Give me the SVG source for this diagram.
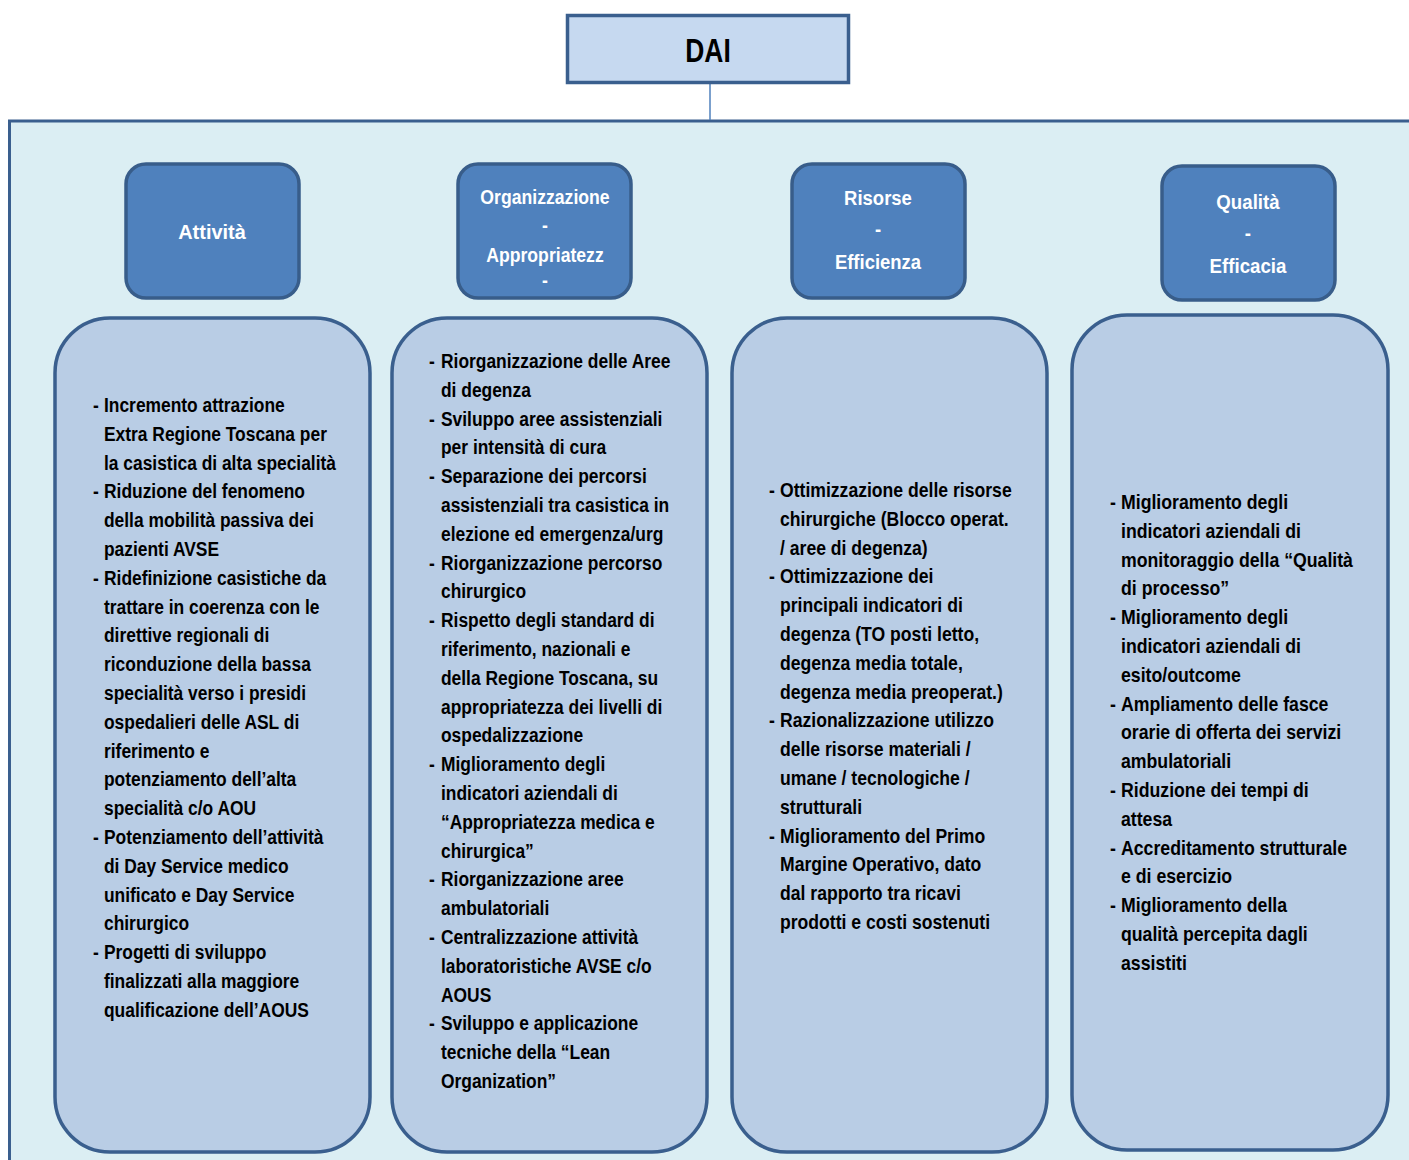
<svg xmlns="http://www.w3.org/2000/svg" width="1409" height="1160" viewBox="0 0 1409 1160">
<style>
.hdr{fill:#4F81BD;stroke:#385D8A;stroke-width:3.5}
.box{fill:#B9CDE5;stroke:#3A5F8E;stroke-width:3.5}
.ht{font-family:"Liberation Sans",Arial,sans-serif;font-weight:bold;font-size:21px;fill:#FFFFFF;text-anchor:middle}
.bt{font-family:"Liberation Sans",Arial,sans-serif;font-weight:bold;font-size:20px;fill:#000000}
</style>
<rect x="0" y="0" width="1409" height="1160" fill="#FFFFFF"/>
<g id="container">
<rect x="9.5" y="121" width="1420" height="1060" fill="#DBEEF3" stroke="#3A5F8E" stroke-width="3"/>
</g>
<g id="connectors">
<line x1="710" y1="82" x2="710" y2="120" stroke="#4F81BD" stroke-width="1.5"/>
</g>
<g id="dai">
<rect x="567.5" y="15.5" width="281" height="67" fill="#C6D9F0" stroke="#3A5F8E" stroke-width="3.5"/>
<text x="708" y="62" transform="translate(708 0) scale(0.8 1) translate(-708 0)" font-family="Liberation Sans, Arial, sans-serif" font-weight="bold" font-size="33" text-anchor="middle" fill="#000">DAI</text>
</g>
<g id="h-attivita">
<rect class="hdr" x="126" y="164" width="173" height="134" rx="20"/>
<g transform="translate(212 0) scale(0.95 1) translate(-212 0)">
<text class="ht" x="212" y="239">Attività</text>
</g>
</g>
<g id="h-organizzazione">
<rect class="hdr" x="458" y="164" width="173" height="134" rx="20"/>
<g transform="translate(545 0) scale(0.84 1) translate(-545 0)">
<text class="ht" x="545" y="204">Organizzazione</text>
<text class="ht" x="545" y="232">-</text>
<text class="ht" x="545" y="262">Appropriatezz</text>
<text class="ht" x="545" y="287">-</text>
</g>
</g>
<g id="h-risorse">
<rect class="hdr" x="792" y="164" width="173" height="134" rx="20"/>
<g transform="translate(878 0) scale(0.88 1) translate(-878 0)">
<text class="ht" x="878" y="205">Risorse</text>
<text class="ht" x="878" y="236">-</text>
<text class="ht" x="878" y="269">Efficienza</text>
</g>
</g>
<g id="h-qualita">
<rect class="hdr" x="1162" y="166" width="173" height="134" rx="20"/>
<g transform="translate(1248 0) scale(0.89 1) translate(-1248 0)">
<text class="ht" x="1248" y="209">Qualità</text>
<text class="ht" x="1248" y="240">-</text>
<text class="ht" x="1248" y="273">Efficacia</text>
</g>
</g>
<g id="b-attivita">
<rect class="box" x="55" y="318" width="315" height="834" rx="55"/>
<text class="bt" transform="translate(104 0) scale(0.87 1) translate(-104 0)">
<tspan x="91.4" y="412">-</tspan><tspan x="104">Incremento attrazione</tspan>
<tspan x="104" dy="28.8">Extra Regione Toscana per</tspan>
<tspan x="104" dy="28.8">la casistica di alta specialità</tspan>
<tspan x="91.4" dy="28.8">-</tspan><tspan x="104">Riduzione del fenomeno</tspan>
<tspan x="104" dy="28.8">della mobilità passiva dei</tspan>
<tspan x="104" dy="28.8">pazienti AVSE</tspan>
<tspan x="91.4" dy="28.8">-</tspan><tspan x="104">Ridefinizione casistiche da</tspan>
<tspan x="104" dy="28.8">trattare in coerenza con le</tspan>
<tspan x="104" dy="28.8">direttive regionali di</tspan>
<tspan x="104" dy="28.8">riconduzione della bassa</tspan>
<tspan x="104" dy="28.8">specialità verso i presidi</tspan>
<tspan x="104" dy="28.8">ospedalieri delle ASL di</tspan>
<tspan x="104" dy="28.8">riferimento e</tspan>
<tspan x="104" dy="28.8">potenziamento dell’alta</tspan>
<tspan x="104" dy="28.8">specialità c/o AOU</tspan>
<tspan x="91.4" dy="28.8">-</tspan><tspan x="104">Potenziamento dell’attività</tspan>
<tspan x="104" dy="28.8">di Day Service medico</tspan>
<tspan x="104" dy="28.8">unificato e Day Service</tspan>
<tspan x="104" dy="28.8">chirurgico</tspan>
<tspan x="91.4" dy="28.8">-</tspan><tspan x="104">Progetti di sviluppo</tspan>
<tspan x="104" dy="28.8">finalizzati alla maggiore</tspan>
<tspan x="104" dy="28.8">qualificazione dell’AOUS</tspan>
</text>
</g>
<g id="b-organizzazione">
<rect class="box" x="392" y="318" width="315" height="834" rx="55"/>
<text class="bt" transform="translate(441 0) scale(0.87 1) translate(-441 0)">
<tspan x="427.2" y="368">-</tspan><tspan x="441">Riorganizzazione delle Aree</tspan>
<tspan x="441" dy="28.8">di degenza</tspan>
<tspan x="427.2" dy="28.8">-</tspan><tspan x="441">Sviluppo aree assistenziali</tspan>
<tspan x="441" dy="28.8">per intensità di cura</tspan>
<tspan x="427.2" dy="28.8">-</tspan><tspan x="441">Separazione dei percorsi</tspan>
<tspan x="441" dy="28.8">assistenziali tra casistica in</tspan>
<tspan x="441" dy="28.8">elezione ed emergenza/urg</tspan>
<tspan x="427.2" dy="28.8">-</tspan><tspan x="441">Riorganizzazione percorso</tspan>
<tspan x="441" dy="28.8">chirurgico</tspan>
<tspan x="427.2" dy="28.8">-</tspan><tspan x="441">Rispetto degli standard di</tspan>
<tspan x="441" dy="28.8">riferimento, nazionali e</tspan>
<tspan x="441" dy="28.8">della Regione Toscana, su</tspan>
<tspan x="441" dy="28.8">appropriatezza dei livelli di</tspan>
<tspan x="441" dy="28.8">ospedalizzazione</tspan>
<tspan x="427.2" dy="28.8">-</tspan><tspan x="441">Miglioramento degli</tspan>
<tspan x="441" dy="28.8">indicatori aziendali di</tspan>
<tspan x="441" dy="28.8">“Appropriatezza medica e</tspan>
<tspan x="441" dy="28.8">chirurgica”</tspan>
<tspan x="427.2" dy="28.8">-</tspan><tspan x="441">Riorganizzazione aree</tspan>
<tspan x="441" dy="28.8">ambulatoriali</tspan>
<tspan x="427.2" dy="28.8">-</tspan><tspan x="441">Centralizzazione attività</tspan>
<tspan x="441" dy="28.8">laboratoristiche AVSE c/o</tspan>
<tspan x="441" dy="28.8">AOUS</tspan>
<tspan x="427.2" dy="28.8">-</tspan><tspan x="441">Sviluppo e applicazione</tspan>
<tspan x="441" dy="28.8">tecniche della “Lean</tspan>
<tspan x="441" dy="28.8">Organization”</tspan>
</text>
</g>
<g id="b-risorse">
<rect class="box" x="732" y="318" width="315" height="834" rx="55"/>
<text class="bt" transform="translate(780 0) scale(0.88 1) translate(-780 0)">
<tspan x="767.5" y="497">-</tspan><tspan x="780">Ottimizzazione delle risorse</tspan>
<tspan x="780" dy="28.8">chirurgiche (Blocco operat.</tspan>
<tspan x="780" dy="28.8">/ aree di degenza)</tspan>
<tspan x="767.5" dy="28.8">-</tspan><tspan x="780">Ottimizzazione dei</tspan>
<tspan x="780" dy="28.8">principali indicatori di</tspan>
<tspan x="780" dy="28.8">degenza (TO posti letto,</tspan>
<tspan x="780" dy="28.8">degenza media totale,</tspan>
<tspan x="780" dy="28.8">degenza media preoperat.)</tspan>
<tspan x="767.5" dy="28.8">-</tspan><tspan x="780">Razionalizzazione utilizzo</tspan>
<tspan x="780" dy="28.8">delle risorse materiali /</tspan>
<tspan x="780" dy="28.8">umane / tecnologiche /</tspan>
<tspan x="780" dy="28.8">strutturali</tspan>
<tspan x="767.5" dy="28.8">-</tspan><tspan x="780">Miglioramento del Primo</tspan>
<tspan x="780" dy="28.8">Margine Operativo, dato</tspan>
<tspan x="780" dy="28.8">dal rapporto tra ricavi</tspan>
<tspan x="780" dy="28.8">prodotti e costi sostenuti</tspan>
</text>
</g>
<g id="b-qualita">
<rect class="box" x="1072" y="315" width="316" height="835" rx="55"/>
<text class="bt" transform="translate(1121 0) scale(0.885 1) translate(-1121 0)">
<tspan x="1108.6" y="509">-</tspan><tspan x="1121">Miglioramento degli</tspan>
<tspan x="1121" dy="28.8">indicatori aziendali di</tspan>
<tspan x="1121" dy="28.8">monitoraggio della “Qualità</tspan>
<tspan x="1121" dy="28.8">di processo”</tspan>
<tspan x="1108.6" dy="28.8">-</tspan><tspan x="1121">Miglioramento degli</tspan>
<tspan x="1121" dy="28.8">indicatori aziendali di</tspan>
<tspan x="1121" dy="28.8">esito/outcome</tspan>
<tspan x="1108.6" dy="28.8">-</tspan><tspan x="1121">Ampliamento delle fasce</tspan>
<tspan x="1121" dy="28.8">orarie di offerta dei servizi</tspan>
<tspan x="1121" dy="28.8">ambulatoriali</tspan>
<tspan x="1108.6" dy="28.8">-</tspan><tspan x="1121">Riduzione dei tempi di</tspan>
<tspan x="1121" dy="28.8">attesa</tspan>
<tspan x="1108.6" dy="28.8">-</tspan><tspan x="1121">Accreditamento strutturale</tspan>
<tspan x="1121" dy="28.8">e di esercizio</tspan>
<tspan x="1108.6" dy="28.8">-</tspan><tspan x="1121">Miglioramento della</tspan>
<tspan x="1121" dy="28.8">qualità percepita dagli</tspan>
<tspan x="1121" dy="28.8">assistiti</tspan>
</text>
</g>
</svg>
